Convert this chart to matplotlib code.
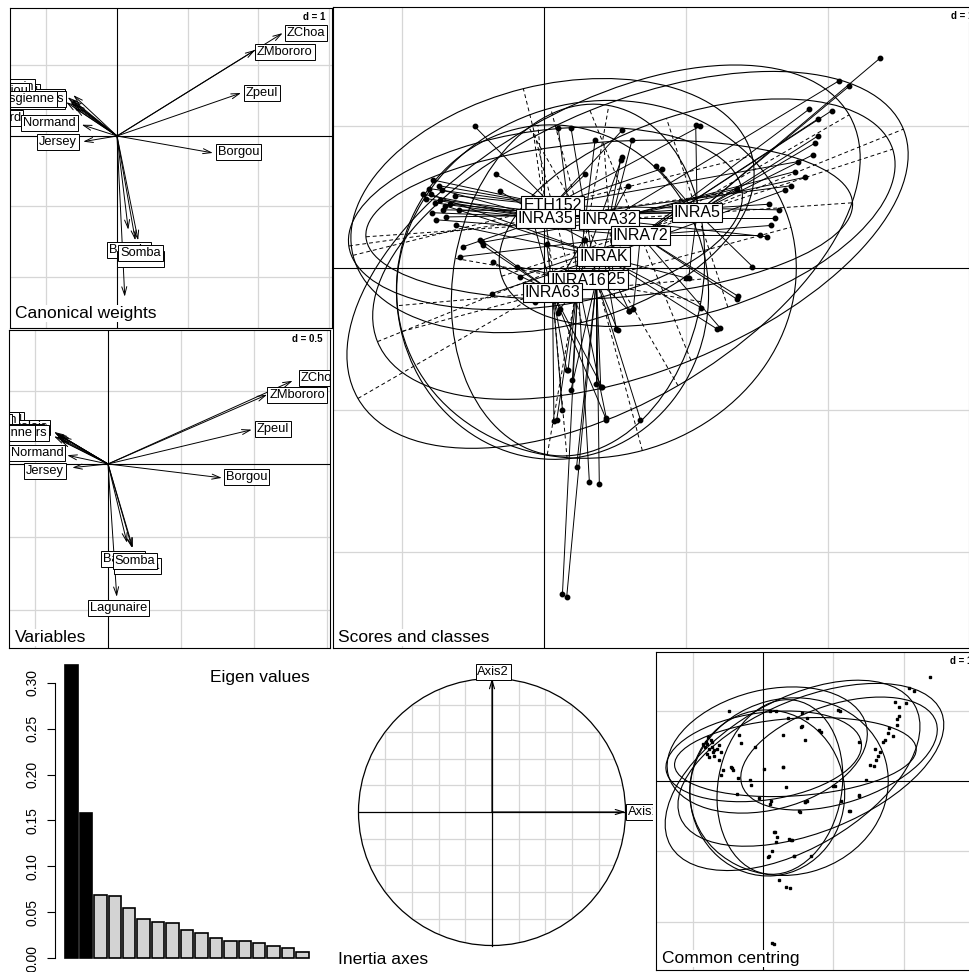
import numpy as np
import matplotlib
matplotlib.use('Agg')
import matplotlib.pyplot as plt
from matplotlib.patches import Ellipse, Circle
from matplotlib.collections import LineCollection

# ---- data ----
pops = ['Baoule', 'Borgou', 'BPN', 'Charolais', 'Jersey', 'Lagunaire', 'Limousin',
        'MaineAnjou', 'Montbeliard', 'NDama', 'Normand', 'Parthenais', 'Salers',
        'Somba', 'Vosgienne', 'ZChoa', 'ZMbororo', 'Zpeul']

# canonical weights (arrow tips) and label spots
cw_x = [0.16, 1.36, -0.62, -0.66, -0.48, 0.11, -0.70, -0.64, -0.60, 0.26, -0.50, -0.60, -0.66, 0.30, -0.72, 2.35, 1.96, 1.76]
cw_y = [-1.33, -0.24, 0.58, 0.50, -0.08, -2.28, 0.55, 0.52, 0.40, -1.48, 0.16, 0.45, 0.47, -1.48, 0.48, 1.46, 1.22, 0.61]
cw_lx = [0.17, 1.72, -1.30, -1.15, -0.84, 0.11, -1.55, -1.75, -1.84, 0.33, -0.96, -1.20, -1.01, 0.33, -1.30, 2.68, 2.38, 2.06]
cw_ly = [-1.62, -0.23, 0.62, 0.56, -0.09, -3.00, 0.70, 0.64, 0.26, -1.74, 0.18, 0.50, 0.52, -1.66, 0.52, 1.46, 1.19, 0.61]

# variables (arrow tips) and label spots
va_x = [0.13, 0.78, -0.36, -0.35, -0.245, 0.06, -0.37, -0.35, -0.33, 0.165, -0.28, -0.32, -0.34, 0.17, -0.37, 1.265, 1.09, 0.985]
va_y = [-0.54, -0.095, 0.21, 0.19, -0.025, -0.91, 0.22, 0.21, 0.165, -0.575, 0.06, 0.19, 0.20, -0.575, 0.19, 0.57, 0.475, 0.235]
va_lx = [0.10, 0.95, -0.68, -0.60, -0.43, 0.07, -0.80, -0.90, -0.92, 0.20, -0.485, -0.66, -0.54, 0.185, -0.72, 1.45, 1.295, 1.13]
va_ly = [-0.65, -0.09, 0.30, 0.25, -0.05, -0.985, 0.30, 0.29, 0.15, -0.70, 0.075, 0.22, 0.21, -0.665, 0.21, 0.59, 0.475, 0.24]

eigen = [0.320, 0.158, 0.069, 0.068, 0.054, 0.042, 0.039, 0.038, 0.030,
         0.027, 0.022, 0.019, 0.018, 0.016, 0.013, 0.011, 0.007]

loci = ['ETH152', 'INRA35', 'INRA32', 'INRA5', 'INRA72', 'INRAK', 'ETH225', 'INRA16', 'INRA63']
cen_x = [0.06, 0.01, 0.46, 1.08, 0.68, 0.42, 0.37, 0.24, 0.06]
cen_y = [0.44, 0.35, 0.34, 0.39, 0.23, 0.08, -0.08, -0.085, -0.17]
ell_a = [1.45, 1.40, 1.72, 1.45, 2.00, 2.00, 1.42, 1.25, 1.18]
ell_b = [0.85, 0.62, 0.55, 0.70, 0.95, 1.05, 1.25, 0.88, 1.10]
ell_ang = [14, 8, 4, 18, 22, 30, 15, 80, 95]

al_x = [-0.81, -0.74, -0.49, 0.55, 1.10, 1.79, -0.34, 0.29, 1.66, -0.63, -0.78, 0.83,
        -0.83, -0.77, -0.31, 1.74, 1.63, -0.57, 0.29, 1.59, -0.60, -0.85, -0.72,
        -0.79, -0.66, 2.08, 1.84, 1.57, 0.54, 0.59, -0.44, 1.77, -0.73, 1.36,
        2.37, 2.15, 1.93, 1.91, -0.71, 0.79, 1.47, 1.02, -0.69, 1.90, 1.07,
        1.87, 1.93, -0.76, -0.59, 1.37, 1.24, 0.63, -0.17, 1.60, 2.03, 1.52, 1.36,
        -0.80, -0.70, -0.37, 1.11, 1.00, 0.51, 1.70, 0.11, -0.62, 0.60, 1.22,
        0.19, 0.40, 0.68, 0.23, 0.52, 0.62, 0.16, 0.37, 0.39, 0.60, 0.19,
        0.13, 0.17, 0.20, 0.09, 0.44, 0.32, 0.10, 0.36, -0.19, 0.33, 0.55,
        0.16, 0.13, 0.44, 0.41, -0.45, -0.36, 0.02, 0.28, -0.12, -0.06, 0.10, -0.43, 0.07]
al_y = [0.56, 0.58, 1.00, 0.97, 1.00, 0.75, 0.66, 0.66, 0.41, 0.51, 0.62, 0.70,
        0.49, 0.46, 0.54, 0.58, 0.35, 0.15, 0.20, 0.45, 0.41, 0.52, 0.55,
        0.39, 0.45, 1.32, 0.64, 0.22, 0.76, 0.58, 0.18, 0.68, 0.48, 0.56,
        1.48, 1.28, 0.93, 0.88, 0.41, 0.72, 0.01, -0.07, 0.36, 0.80, 1.01,
        1.12, 1.05, 0.34, 0.08, -0.20, -0.42, -0.29, -0.06, 0.30, 1.11, 0.23, -0.22,
        0.52, 0.44, -0.18, -0.28, -0.07, -0.43, 0.55, -0.29, 0.30, -0.30, -0.43,
        -0.86, -0.84, -1.07, -1.40, -0.44, 0.90, -2.32, -0.82, -1.52, -0.30, 0.99,
        -2.30, -0.72, -0.79, -1.07, -1.06, -1.51, 0.99, 0.90, 0.01, -0.08, 0.78,
        -0.72, -1.00, -1.07, -0.84, 0.20, 0.04, 0.17, 0.20, 0.49, -0.24, -0.32, 0.16, -1.08]
al_loc = [0] * 12 + [1] * 11 + [2] * 11 + [3] * 11 + [4] * 12 + [5] * 11 + [6] * 11 + [7] * 11 + [8] * 13

W, H = 969, 972
plt.rcParams['font.family'] = ['Liberation Sans', 'DejaVu Sans']
fig = plt.figure(figsize=(W / 100, H / 100), dpi=100)


def panel(box, origin, scale):
    x0, y0, x1, y1 = box
    ax = fig.add_axes([x0 / W, 1 - y1 / H, (x1 - x0) / W, (y1 - y0) / H])
    ax.set_xlim((x0 - origin[0]) / scale, (x1 - origin[0]) / scale)
    ax.set_ylim((origin[1] - y1) / scale, (origin[1] - y0) / scale)
    ax.set_xticks([])
    ax.set_yticks([])
    for s in ax.spines.values():
        s.set_linewidth(0.8)
        s.set_zorder(10)
    return ax


def background(ax, d):
    xmin, xmax = ax.get_xlim()
    ymin, ymax = ax.get_ylim()
    for v in np.arange(np.ceil(xmin / d), np.floor(xmax / d) + 1) * d:
        if abs(v) > 1e-9:
            ax.axvline(v, color='#d6d6d6', lw=0.9, zorder=0)
    for v in np.arange(np.ceil(ymin / d), np.floor(ymax / d) + 1) * d:
        if abs(v) > 1e-9:
            ax.axhline(v, color='#d6d6d6', lw=0.9, zorder=0)
    ax.axvline(0, color='black', lw=0.8, zorder=1)
    ax.axhline(0, color='black', lw=0.8, zorder=1)
    ax.annotate('d = %g' % d, xy=(1, 1), xycoords='axes fraction', xytext=(-7, -4),
                textcoords='offset pixels', ha='right', va='top', fontsize=7,
                fontweight='bold', zorder=10,
                bbox=dict(boxstyle='square,pad=0.1', fc='white', ec='none'))


def sub(x, y, s, ha='left'):
    fig.text(x / W, 1 - y / H, s, fontsize=12.5, ha=ha, va='baseline', zorder=20,
             bbox=dict(boxstyle='square,pad=0.08', fc='white', ec='none'))


def boxed(ax, x, y, s, size, **kw):
    t = ax.text(x, y, s, fontsize=size, zorder=5,
                bbox=dict(boxstyle='square,pad=0.15', fc='white', ec='black', lw=0.7), **kw)
    t.set_clip_on(True)
    t.set_clip_box(ax.bbox)
    bp = t.get_bbox_patch()
    bp.set_clip_on(True)
    bp.set_clip_box(ax.bbox)
    return t


def arrows(ax, tx, ty, lx, ly):
    for x, y in zip(tx, ty):
        ax.annotate('', xy=(x, y), xytext=(0, 0),
                    arrowprops=dict(arrowstyle='->,head_length=0.6,head_width=0.18',
                                    lw=0.7, color='black', shrinkA=0, shrinkB=0))
    for name, x, y in zip(pops, lx, ly):
        boxed(ax, x, y, name, 9.3, ha='center', va='center')


# canonical weights
ax1 = panel((10, 8, 332, 328), (117, 136), 70.5)
background(ax1, 1)
arrows(ax1, cw_x, cw_y, cw_lx, cw_ly)
sub(15, 318, 'Canonical weights')

# variables
ax2 = panel((9, 330, 330, 648), (108, 464), 146)
background(ax2, 0.5)
arrows(ax2, va_x, va_y, va_lx, va_ly)
sub(15, 642, 'Variables')

# scores and classes
ax3 = panel((333, 7, 980, 648), (544, 268), 141.8)
background(ax3, 1)
segs = [[(cen_x[g], cen_y[g]), (x, y)] for x, y, g in zip(al_x, al_y, al_loc)]
ax3.add_collection(LineCollection(segs, colors='black', linewidths=0.7, zorder=2))
ax3.plot(al_x, al_y, 'o', ms=3.2, color='black', zorder=3)
for cx, cy, a, b, t in zip(cen_x, cen_y, ell_a, ell_b, ell_ang):
    ax3.add_patch(Ellipse((cx, cy), 2 * a, 2 * b, angle=t, fill=False, ec='black', lw=0.8, zorder=2))
    r = np.radians(t)
    ax3.plot([cx - a * np.cos(r), cx + a * np.cos(r)], [cy - a * np.sin(r), cy + a * np.sin(r)],
             color='black', lw=0.7, ls=(0, (4, 3)), zorder=2)
    ax3.plot([cx + b * np.sin(r), cx - b * np.sin(r)], [cy - b * np.cos(r), cy + b * np.cos(r)],
             color='black', lw=0.7, ls=(0, (4, 3)), zorder=2)
for name, x, y in zip(loci, cen_x, cen_y):
    ax3.text(x, y, name, ha='center', va='center', fontsize=11.5, zorder=6,
             bbox=dict(boxstyle='square,pad=0.12', fc='white', ec='black', lw=0.8))
sub(338, 642, 'Scores and classes')

# eigen values
ax4 = fig.add_axes([55 / W, 0, (330 - 55) / W, (972 - 652) / H])
ax4.set_xlim((55 - 71.5) / 14.44, (330 - 71.5) / 14.44)
ax4.set_ylim((958 - 972) / 916.7, (958 - 652) / 916.7)
cols = ['black'] * 2 + ['#d3d3d3'] * (len(eigen) - 2)
ax4.bar(range(len(eigen)), eigen, width=0.86, color=cols, edgecolor='black', lw=1.2)
for s in ['top', 'right', 'bottom']:
    ax4.spines[s].set_visible(False)
ax4.spines['left'].set_bounds(0, 0.3)
ax4.spines['left'].set_linewidth(0.8)
ax4.set_xticks([])
ax4.set_yticks([0, 0.05, 0.10, 0.15, 0.20, 0.25, 0.30])
ax4.set_yticklabels(['0.00', '0.05', '0.10', '0.15', '0.20', '0.25', '0.30'])
ax4.tick_params(axis='y', labelrotation=90, length=6, width=0.8, pad=5, labelsize=10)
for lab in ax4.get_yticklabels():
    lab.set_va('center')
ax4.patch.set_alpha(0)
fig.text(310 / W, 1 - 682 / H, 'Eigen values', fontsize=12.5, ha='right', va='baseline')

# inertia axes
ax5 = panel((333, 652, 653, 972), (492, 812), 133.5)
ax5.axis('off')
circ = Circle((0, 0), 1, fill=False, ec='black', lw=0.9, zorder=3)
ax5.add_patch(circ)
for v in [-0.8, -0.6, -0.4, -0.2, 0.2, 0.4, 0.6, 0.8]:
    ax5.axvline(v, color='#d6d6d6', lw=0.9, zorder=0).set_clip_path(circ)
    ax5.axhline(v, color='#d6d6d6', lw=0.9, zorder=0).set_clip_path(circ)
ax5.plot([-1, 1], [0, 0], color='black', lw=0.9)
ax5.plot([0, 0], [-1, 1], color='black', lw=0.9)
for (x, y) in [(1, 0), (0, 1)]:
    ax5.annotate('', xy=(x, y), xytext=(0, 0),
                 arrowprops=dict(arrowstyle='->,head_length=0.6,head_width=0.18',
                                 lw=0.8, color='black', shrinkA=0, shrinkB=0))
boxed(ax5, 1.02, 0, 'Axis1', 9.3, ha='left', va='center')
boxed(ax5, 0.01, 1.005, 'Axis2', 9.3, ha='center', va='bottom')
sub(338, 964, 'Inertia axes')

# common centring
ax6 = panel((656, 652, 979, 970), (763, 781), 70.4)
background(ax6, 1)
ax6.plot(al_x, al_y, 's', ms=1.8, color='black', zorder=3)
for cx, cy, a, b, t in zip(cen_x, cen_y, ell_a, ell_b, ell_ang):
    ax6.add_patch(Ellipse((cx, cy), 2 * a, 2 * b, angle=t, fill=False, ec='black', lw=0.8, zorder=2))
sub(662, 963, 'Common centring')

fig.savefig('out.png', dpi=100)
